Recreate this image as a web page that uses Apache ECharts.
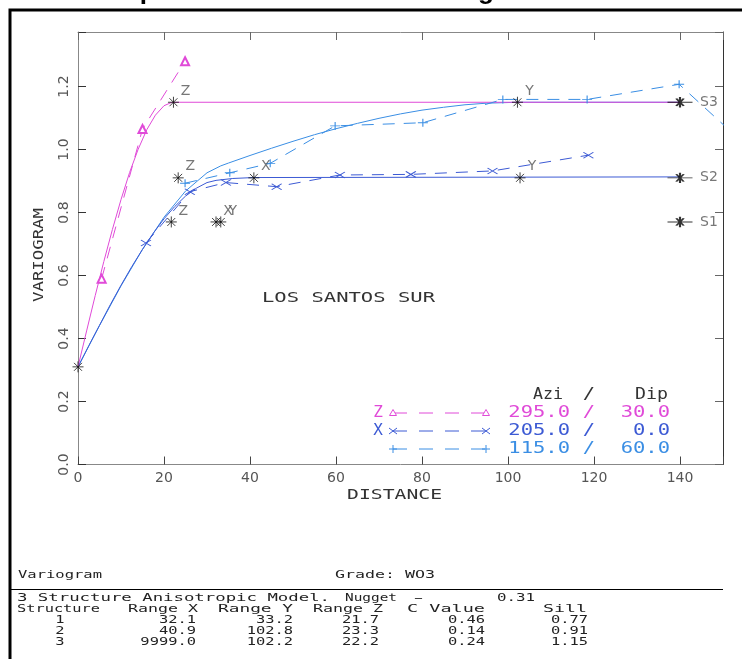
<!DOCTYPE html>
<html><head><meta charset="utf-8">
<script src="https://cdn.jsdelivr.net/npm/echarts/dist/echarts.min.js"></script>
<style>html,body{margin:0;padding:0;background:#fff}#c{width:742px;height:659px}</style>
</head><body><div id="c"></div>
<script>
// ---------------- data ----------------
const nugget = 0.31;
const structures = [1, 2, 3];
const rangeX = [32.1, 40.9, 9999.0];
const rangeY = [33.2, 102.8, 102.2];
const rangeZ = [21.7, 23.3, 22.2];
const cValue = [0.46, 0.14, 0.24];
const sill = [0.77, 0.91, 1.15];
const sillLabels = ['S1', 'S2', 'S3'];
const sillMarkerX = 140;

const dirNames = ['Z', 'X', ''];
const dirAzi = [295.0, 205.0, 115.0];
const dirDip = [30.0, 0.0, 60.0];

// experimental variograms
const expZ = [[5.5, 0.59], [15.0, 1.065], [24.9, 1.28]];
const expX = [[15.8, 0.703], [26.0, 0.866], [34.4, 0.895], [46.2, 0.882], [60.9, 0.919], [77.4, 0.921], [96.4, 0.932], [118.7, 0.982]];
const expY = [[24.9, 0.893], [35.3, 0.926], [44.7, 0.956], [59.8, 1.075], [80.2, 1.085], [98.8, 1.159], [118.4, 1.159], [139.8, 1.207], [160, 0.955]];

// model curves
const modelZ = [[0, 0.31], [2, 0.424], [4, 0.536], [6, 0.644], [8, 0.746], [10, 0.841], [12, 0.927], [14, 1.001], [16, 1.063], [18, 1.109], [20, 1.139], [21.7, 1.149], [23.3, 1.15], [140, 1.15]];
const modelX = [[0, 0.31], [2.5, 0.377], [5, 0.442], [7.5, 0.507], [10, 0.569], [12.5, 0.628], [15, 0.683], [17.5, 0.734], [20, 0.780], [22.5, 0.819], [25, 0.852], [27.5, 0.877], [30, 0.895], [32.1, 0.902], [36, 0.908], [40.9, 0.911], [140, 0.913]];
const modelY = [[0, 0.31], [5, 0.441], [10, 0.567], [15, 0.683], [20, 0.785], [25, 0.868], [30, 0.926], [33.2, 0.948], [35, 0.957], [40, 0.981], [45, 1.004], [50, 1.026], [55, 1.047], [60, 1.066], [65, 1.083], [70, 1.099], [75, 1.113], [80, 1.125], [85, 1.134], [90, 1.142], [95, 1.147], [102.2, 1.15], [102.8, 1.15], [140, 1.15]];

const areaLabel = 'LOS SANTOS SUR';

// ---------------- styling / layout ----------------
const COL = { z: '#e04ad8', x: '#3c5ad4', y: '#3a8ee4' };
const FAM = 'DejaVu Sans';
const MONO = 'DejaVu Sans Mono';
const X0 = 78, TOP = 32, W = 645, H = 432.5;
const Y_MAX = H / 315;

const ASTER = 'path://M0,-5L0,5M-5,0L5,0M-3.6,-3.6L3.6,3.6M-3.6,3.6L3.6,-3.6';
const SASTER = 'path://M-12,0L12,0M0,-5L0,5M-3.6,-3.6L3.6,3.6M-3.6,3.6L3.6,-3.6';
const XMARK = 'path://M-5,-3L5,3M-5,3L5,-3';
const PMARK = 'path://M-5,0L5,0M0,-4L0,4';

const rangeMarkers = [];
for (let i = 0; i < structures.length; i++) {
  rangeMarkers.push({ name: 'Z', value: [rangeZ[i], sill[i]] });
  if (rangeX[i] < 150) rangeMarkers.push({ name: 'X', value: [rangeX[i], sill[i]] });
  rangeMarkers.push({ name: 'Y', value: [rangeY[i], sill[i]] });
}
const sillMarkers = sill.map((s, i) => ({ name: sillLabels[i], value: [sillMarkerX, s] }));

const mctx = document.createElement('canvas').getContext('2d');
function measure(t, size, fam) { mctx.font = size + 'px "' + (fam || MONO) + '"'; return mctx.measureText(t).width; }
function txt(t, x, cy, size, color, scale, align) {
  return { type: 'text', x: x, y: cy, scaleX: scale, silent: true, z: 50,
    style: { text: t, fontSize: size, fontFamily: MONO, fill: color, align: align || 'left', verticalAlign: 'middle' } };
}
function fit(t, x0, x1, cy, size, color) { return txt(t, x0, cy, size, color, (x1 - x0) / measure(t, size), 'left'); }

const G = [];
// outer frame
G.push({ type: 'polyline', shape: { points: [[10, 700], [10, 10], [760, 10]] }, style: { stroke: '#000', lineWidth: 3, fill: null }, silent: true });
// clipped title
G.push({ type: 'text', x: 108, y: 5, silent: true, style: { text: 'Experimental and Model Variogram', font: 'bold 26px "Liberation Sans"', fill: '#000', align: 'left', verticalAlign: 'bottom' } });
// separator line
G.push({ type: 'line', shape: { x1: 11, y1: 589.5, x2: 723, y2: 589.5 }, style: { stroke: '#000', lineWidth: 1 }, silent: true });

const TS = 11, TC = '#222', TSC = 1.4;
G.push(fit('Variogram', 18, 102, 575, TS, TC));
G.push(fit('Grade: WO3', 335, 435, 575, TS, TC));
G.push(fit(structures.length + ' Structure Anisotropic Model.', 17, 330, 598.5, TS, TC));
G.push(fit('Nugget', 345, 397, 598.5, TS, TC));
G.push(fit('-', 410, 427, 598.5, TS, TC));
G.push(fit(nugget.toFixed(2), 497, 535, 598.5, TS, TC));
G.push(fit('Structure', 17, 100, 609.3, TS, TC));
G.push(fit('Range X', 128, 198, 609.3, TS, TC));
G.push(fit('Range Y', 218, 293, 609.3, TS, TC));
G.push(fit('Range Z', 313, 383, 609.3, TS, TC));
G.push(fit('C Value', 407, 485, 609.3, TS, TC));
G.push(fit('Sill', 543, 587, 609.3, TS, TC));
for (let i = 0; i < structures.length; i++) {
  const cy = 620 + i * 10.85;
  G.push(txt(String(structures[i]), 60, cy, TS, TC, TSC, 'center'));
  G.push(txt(rangeX[i].toFixed(1), 196, cy, TS, TC, TSC, 'right'));
  G.push(txt(rangeY[i].toFixed(1), 293, cy, TS, TC, TSC, 'right'));
  G.push(txt(rangeZ[i].toFixed(1), 379, cy, TS, TC, TSC, 'right'));
  G.push(txt(cValue[i].toFixed(2), 485, cy, TS, TC, TSC, 'right'));
  G.push(txt(sill[i].toFixed(2), 588, cy, TS, TC, TSC, 'right'));
}

// in-plot label & axis names
G.push(fit(areaLabel, 262, 435, 298, 14, '#333'));
G.push(fit('DISTANCE', 347, 442, 495, 14, '#333'));
(function () {
  const t = 'VARIOGRAM', w = measure(t, 14);
  G.push({ type: 'text', x: 39, y: 255, rotation: Math.PI / 2, scaleX: 94 / w, silent: true,
    style: { text: t, fontSize: 14, fontFamily: MONO, fill: '#333', align: 'center', verticalAlign: 'middle' } });
})();

// legend
function mk(kind, cx, cy, c) {
  const st = { stroke: c, lineWidth: 1, fill: null };
  if (kind === 'tri') return [{ type: 'polygon', shape: { points: [[cx, cy - 3.5], [cx - 3.5, cy + 2.5], [cx + 3.5, cy + 2.5]] }, style: { stroke: c, lineWidth: 1, fill: '#fff' }, silent: true, z: 60 }];
  if (kind === 'x') return [
    { type: 'line', shape: { x1: cx - 4, y1: cy - 3, x2: cx + 4, y2: cy + 3 }, style: st, silent: true, z: 60 },
    { type: 'line', shape: { x1: cx - 4, y1: cy + 3, x2: cx + 4, y2: cy - 3 }, style: st, silent: true, z: 60 }];
  return [
    { type: 'line', shape: { x1: cx - 4, y1: cy, x2: cx + 4, y2: cy }, style: st, silent: true, z: 60 },
    { type: 'line', shape: { x1: cx, y1: cy - 4, x2: cx, y2: cy + 4 }, style: st, silent: true, z: 60 }];
}
const LS = 16, LSC = 1.28;
G.push(fit('Azi', 533, 563, 395, LS, '#333'));
G.push(txt('/', 589, 395, LS, '#333', LSC, 'center'));
G.push(fit('Dip', 635, 668, 395, LS, '#333'));
const legCols = [COL.z, COL.x, COL.y], legKinds = ['tri', 'x', 'plus'];
for (let i = 0; i < 3; i++) {
  const cy = 413 + i * 18, c = legCols[i];
  if (dirNames[i]) G.push(txt(dirNames[i], 378, cy, LS, c, 1.0, 'center'));
  G.push({ type: 'line', shape: { x1: 393, y1: cy, x2: 486, y2: cy }, style: { stroke: c, lineWidth: 1, lineDash: [14, 12] }, silent: true });
  G.push(...mk(legKinds[i], 393, cy, c), ...mk(legKinds[i], 486, cy, c));
  G.push(txt(dirAzi[i].toFixed(1), 570, cy, LS, c, LSC, 'right'));
  G.push(txt('/', 589, cy, LS, c, LSC, 'center'));
  G.push(txt(dirDip[i].toFixed(1), 670, cy, LS, c, LSC, 'right'));
}

const fmtY = v => (Math.abs(v / 0.2 - Math.round(v / 0.2)) < 1e-6 ? v.toFixed(1) : '');
const fmtX = v => (Math.abs(v / 20 - Math.round(v / 20)) < 1e-6 ? String(Math.round(v)) : '');

const lbl = { color: '#555', fontSize: 14, fontFamily: FAM };
const option = {
  animation: false,
  grid: { left: X0, top: TOP, width: W, height: H, containLabel: false },
  xAxis: [
    { type: 'value', position: 'bottom', min: 0, max: 150, interval: 20,
      axisLine: { onZero: false, lineStyle: { color: '#888', width: 1 } },
      axisTick: { inside: true, length: 8, lineStyle: { color: '#444' } },
      axisLabel: Object.assign({ margin: 7, formatter: fmtX }, lbl), splitLine: { show: false } },
    { type: 'value', position: 'top', min: 0, max: 150, interval: 20,
      axisLine: { onZero: false, lineStyle: { color: '#888', width: 1 } },
      axisTick: { inside: true, length: 8, lineStyle: { color: '#666' } },
      axisLabel: { show: false }, splitLine: { show: false } }
  ],
  yAxis: [
    { type: 'value', position: 'left', min: 0, max: Y_MAX, interval: 0.2,
      axisLine: { onZero: false, lineStyle: { color: '#888', width: 1 } },
      axisTick: { inside: true, length: 8, lineStyle: { color: '#333' } },
      axisLabel: Object.assign({ rotate: 90, margin: 7, formatter: fmtY }, lbl), splitLine: { show: false } },
    { type: 'value', position: 'right', min: 0, max: Y_MAX, interval: 0.2,
      axisLine: { onZero: false, lineStyle: { color: '#333', width: 1 } },
      axisTick: { inside: true, length: 8, lineStyle: { color: '#666' } },
      axisLabel: { show: false }, splitLine: { show: false } }
  ],
  series: [
    { type: 'line', data: modelY, symbol: 'none', lineStyle: { color: COL.y, width: 1 }, z: 2 },
    { type: 'line', data: modelX, symbol: 'none', lineStyle: { color: COL.x, width: 1 }, z: 2 },
    { type: 'line', data: modelZ, symbol: 'none', lineStyle: { color: COL.z, width: 1 }, z: 3 },
    { type: 'line', data: expZ, symbol: 'emptyTriangle', symbolSize: 8,
      itemStyle: { color: COL.z, borderColor: COL.z, borderWidth: 1 },
      lineStyle: { color: COL.z, width: 1, type: [12, 9] }, z: 4 },
    { type: 'line', data: expX, symbol: XMARK, symbolSize: [10, 6],
      itemStyle: { color: COL.x, borderColor: COL.x, borderWidth: 1 },
      lineStyle: { color: COL.x, width: 1, type: [12, 9] }, z: 4 },
    { type: 'line', data: expY, symbol: PMARK, symbolSize: [10, 8], clip: false,
      itemStyle: { color: COL.y, borderColor: COL.y, borderWidth: 1 },
      lineStyle: { color: COL.y, width: 1, type: [12, 9] }, z: 4 },
    { type: 'scatter', data: [[0, nugget]], symbol: ASTER, symbolSize: 11,
      itemStyle: { color: '#111', borderColor: '#111', borderWidth: 1 }, clip: false, z: 5 },
    { type: 'scatter', data: rangeMarkers, symbol: ASTER, symbolSize: 11,
      itemStyle: { color: '#111', borderColor: '#111', borderWidth: 1 }, z: 5,
      label: Object.assign({ show: true, position: 'inside', offset: [12, -11], formatter: '{b}' }, lbl) },
    { type: 'scatter', data: sillMarkers, symbol: SASTER, symbolSize: [25, 10.4],
      itemStyle: { color: '#000', borderColor: '#000', borderWidth: 1.4 }, z: 5,
      label: Object.assign({ show: true, position: 'inside', offset: [29, 0], formatter: '{b}' }, lbl) }
  ],
  graphic: { elements: G }
};
const chart = echarts.init(document.getElementById('c'), null, { renderer: 'canvas' });
chart.setOption(option);
</script></body></html>
